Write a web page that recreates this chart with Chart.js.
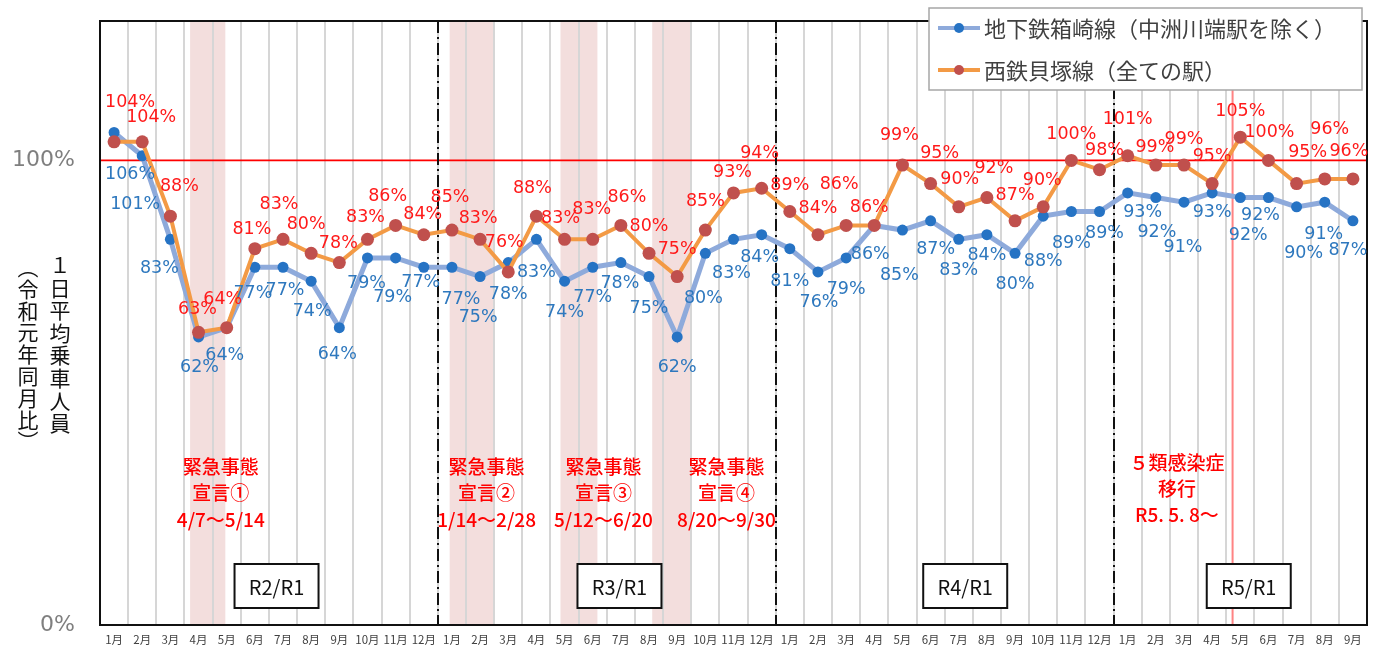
<!DOCTYPE html>
<html lang="ja">
<head>
<meta charset="utf-8">
<script src="https://cdn.jsdelivr.net/npm/chart.js@4.4.1/dist/chart.umd.min.js"></script>
<style>
html,body{margin:0;padding:0;background:#fff;}
#wrap{width:1381px;height:652px;}
</style>
</head>
<body>
<div id="wrap"><canvas id="c" width="1381" height="652"></canvas></div>
<script>
// 月ラベル（令和2年1月〜令和5年9月）
const months = [
  '1月','2月','3月','4月','5月','6月','7月','8月','9月','10月','11月','12月',
  '1月','2月','3月','4月','5月','6月','7月','8月','9月','10月','11月','12月',
  '1月','2月','3月','4月','5月','6月','7月','8月','9月','10月','11月','12月',
  '1月','2月','3月','4月','5月','6月','7月','8月','9月'
];

// 地下鉄箱崎線（中洲川端駅を除く）令和元年同月比 %
const subway = [
  106, 101, 83, 62, 64, 77, 77, 74, 64, 79, 79, 77,
  77, 75, 78, 83, 74, 77, 78, 75, 62, 80, 83, 84,
  81, 76, 79, 86, 85, 87, 83, 84, 80, 88, 89, 89,
  93, 92, 91, 93, 92, 92, 90, 91, 87
];

// 西鉄貝塚線（全ての駅）令和元年同月比 %
const nishitetsu = [
  104, 104, 88, 63, 64, 81, 83, 80, 78, 83, 86, 84,
  85, 83, 76, 88, 83, 83, 86, 80, 75, 85, 93, 94,
  89, 84, 86, 86, 99, 95, 90, 92, 87, 90, 100, 98,
  101, 99, 99, 95, 105, 100, 95, 96, 96
];

const seriesNames = ['地下鉄箱崎線（中洲川端駅を除く）', '西鉄貝塚線（全ての駅）'];
const yTickValues = [0, 100];

// 緊急事態宣言の期間
const emergencyPeriods = [
  { from: [2020, 4, 7],  to: [2020, 5, 14], lines: ['緊急事態', '宣言①', '4/7～5/14'],  at: 3.79 },
  { from: [2021, 1, 14], to: [2021, 2, 28], lines: ['緊急事態', '宣言②', '1/14～2/28'], at: 13.23 },
  { from: [2021, 5, 12], to: [2021, 6, 20], lines: ['緊急事態', '宣言③', '5/12～6/20'], at: 17.38 },
  { from: [2021, 8, 20], to: [2021, 9, 30], lines: ['緊急事態', '宣言④', '8/20～9/30'], at: 21.75 }
];
// ５類感染症移行日
const class5Date = [2023, 5, 8];
const class5Lines = ['５類感染症', '移行', 'R5. 5. 8～'];
const class5At = 37.75;

// 年度区分ボックス
const periodBoxes = [
  { text: 'R2/R1', at: 5.77 },
  { text: 'R3/R1', at: 17.95 },
  { text: 'R4/R1', at: 30.23 },
  { text: 'R5/R1', at: 40.3 }
];
const yearBreaks = [11.5, 23.5, 35.5];

// データラベルの位置調整（点からのずれ px）
const subwayLabelShift = [
  [16,42],[-7,49],[-11,29],[1,31],[-2,28],[-2,26],[2,23],[1,30],[-2,27],[-1,25],[-3,39],[-3,15],
  [9,32],[-2,41],[0,32],[0,33],[0,31],[0,30],[-1,21],[0,32],[0,31],[-2,45],[-2,34],[-2,23],
  [0,33],[1,31],[0,31],[-4,29],[-3,45],[5,29],[0,31],[0,21],[0,31],[0,45],[0,32],[5,22],
  [15,20],[1,35],[-1,45],[0,20],[8,38],[-8,18],[7,47],[-1,32],[-5,30]
];
const nishitetsuLabelShift = [
  [16,-39],[9,-24],[9,-30],[-1,-23],[-4,-28],[-3,-19],[-4,-35],[-5,-29],[-1,-19],[-2,-22],[-8,-29],[-1,-20],
  [-2,-33],[-2,-21],[-4,-29],[-4,-28],[-4,-21],[-1,-30],[6,-28],[0,-27],[0,-27],[0,-29],[-1,-20],[-2,-35],
  [0,-26],[0,-26],[-7,-41],[-5,-18],[-3,-30],[9,-30],[1,-27],[7,-29],[0,-25],[-1,-26],[0,-26],[5,-19],
  [0,-36],[-1,-18],[0,-26],[0,-27],[0,-26],[1,-28],[11,-31],[5,-50],[-4,-28]
];

const COLORS = {
  subwayLine: '#8EAADB',
  subwayPoint: '#2673C4',
  subwayLabel: '#2E78BE',
  nishiLine: '#F39A45',
  nishiPoint: '#C0504D',
  nishiLabel: '#FF1A1A',
  red: '#FF0000',
  grid: '#D6D6D6',
  band: '#F3DEDD'
};

const CJK = '"Noto Sans CJK JP", "Noto Sans", sans-serif';

// 日付 → カテゴリ軸上の小数位置
function datePos(y, m, d, isEnd) {
  const i = (y - 2020) * 12 + (m - 1);
  const dim = new Date(y, m, 0).getDate();
  return i - 0.5 + (isEnd ? d : d - 1) / dim;
}

const overlay = {
  id: 'overlay',
  beforeDraw(chart) {
    const { ctx, chartArea: a, scales: { x } } = chart;
    ctx.save();
    ctx.fillStyle = COLORS.band;
    for (const p of emergencyPeriods) {
      const x0 = x.getPixelForValue(datePos(...p.from, false));
      const x1 = x.getPixelForValue(datePos(...p.to, true));
      ctx.fillRect(x0, a.top, x1 - x0, a.bottom - a.top);
    }
    ctx.restore();
  },
  beforeDatasetsDraw(chart) {
    const { ctx, chartArea: a, scales: { x, y } } = chart;
    ctx.save();

    // 100% 基準線
    const y100 = y.getPixelForValue(100);
    ctx.strokeStyle = COLORS.red;
    ctx.lineWidth = 1.6;
    ctx.beginPath();
    ctx.moveTo(a.left, y100);
    ctx.lineTo(a.right, y100);
    ctx.stroke();

    // ５類移行日
    const xc = x.getPixelForValue(datePos(...class5Date, false));
    ctx.strokeStyle = 'rgba(255,90,90,0.75)';
    ctx.lineWidth = 2;
    ctx.beginPath();
    ctx.moveTo(xc, a.top);
    ctx.lineTo(xc, a.bottom);
    ctx.stroke();

    // 注記テキスト
    ctx.fillStyle = COLORS.red;
    ctx.textAlign = 'center';
    ctx.textBaseline = 'middle';
    ctx.font = '500 19px ' + CJK;
    const lineYs = [467, 493, 520];
    for (const p of emergencyPeriods) {
      const cx = x.getPixelForValue(p.at);
      p.lines.forEach((t, k) => ctx.fillText(t, cx, lineYs[k]));
    }
    const c5x = x.getPixelForValue(class5At);
    const c5Ys = [463, 489, 515];
    class5Lines.forEach((t, k) => ctx.fillText(t, c5x, c5Ys[k]));

    // 年区切り（一点鎖線）
    ctx.strokeStyle = '#111';
    ctx.lineWidth = 2;
    ctx.setLineDash([12, 4, 2, 4]);
    for (const b of yearBreaks) {
      const bx = Math.round(x.getPixelForValue(b));
      ctx.beginPath();
      ctx.moveTo(bx, a.top);
      ctx.lineTo(bx, a.bottom);
      ctx.stroke();
    }
    ctx.setLineDash([]);

    // 年度ボックス
    ctx.font = '20px ' + CJK;
    for (const b of periodBoxes) {
      const cx = x.getPixelForValue(b.at);
      const w = 84, h = 44, top = 564;
      ctx.fillStyle = '#fff';
      ctx.fillRect(cx - w / 2, top, w, h);
      ctx.strokeStyle = '#111';
      ctx.lineWidth = 2;
      ctx.strokeRect(cx - w / 2, top, w, h);
      ctx.fillStyle = '#111';
      ctx.fillText(b.text, cx, top + h / 2 + 1);
    }

    // 外枠
    ctx.strokeStyle = '#111';
    ctx.lineWidth = 2;
    ctx.strokeRect(a.left, a.top, a.right - a.left, a.bottom - a.top);
    ctx.restore();
  },
  afterDatasetsDraw(chart) {
    const { ctx } = chart;
    ctx.save();
    ctx.font = '17.5px "DejaVu Sans", Verdana, sans-serif';
    ctx.textAlign = 'center';
    ctx.textBaseline = 'middle';
    const sets = [
      { idx: 0, values: subway, shift: subwayLabelShift, color: COLORS.subwayLabel },
      { idx: 1, values: nishitetsu, shift: nishitetsuLabelShift, color: COLORS.nishiLabel }
    ];
    for (const s of sets) {
      const meta = chart.getDatasetMeta(s.idx);
      ctx.fillStyle = s.color;
      meta.data.forEach((pt, i) => {
        const [dx, dy] = s.shift[i];
        ctx.fillText(s.values[i] + '%', pt.x + dx, pt.y + dy);
      });
    }
    ctx.restore();
  },
  afterDraw(chart) {
    const { ctx } = chart;
    ctx.save();

    // 縦書きの軸タイトル
    ctx.fillStyle = '#111';
    ctx.font = '21px ' + CJK;
    ctx.textAlign = 'center';
    ctx.textBaseline = 'middle';
    const right = '１日平均乗車人員';
    const left = '︵令和元年同月比︶';
    [...right].forEach((ch, i) => ctx.fillText(ch, 60, 265 + i * 22.6));
    [...left].forEach((ch, i) => ctx.fillText(ch, 28, 267 + i * 21.8));

    // 凡例
    const lx = 929, ly = 8, lw = 433, lh = 82;
    ctx.fillStyle = '#fff';
    ctx.fillRect(lx, ly, lw, lh);
    ctx.strokeStyle = '#A6A6A6';
    ctx.lineWidth = 1.5;
    ctx.strokeRect(lx, ly, lw, lh);
    const rows = [
      { y: 28, line: COLORS.subwayLine, point: COLORS.subwayPoint, text: seriesNames[0] },
      { y: 70, line: COLORS.nishiLine, point: COLORS.nishiPoint, text: seriesNames[1] }
    ];
    for (const r of rows) {
      ctx.strokeStyle = r.line;
      ctx.lineWidth = 4;
      ctx.beginPath();
      ctx.moveTo(938, r.y);
      ctx.lineTo(980, r.y);
      ctx.stroke();
      ctx.fillStyle = r.point;
      ctx.beginPath();
      ctx.arc(959, r.y, 5, 0, Math.PI * 2);
      ctx.fill();
      ctx.fillStyle = '#404040';
      ctx.font = '22px ' + CJK;
      ctx.textAlign = 'left';
      ctx.fillText(r.text, 984, r.y + 1);
    }
    ctx.restore();
  }
};

new Chart(document.getElementById('c'), {
  type: 'line',
  data: {
    labels: months,
    datasets: [
      {
        label: seriesNames[0],
        data: subway,
        borderColor: COLORS.subwayLine,
        borderWidth: 5,
        pointBackgroundColor: COLORS.subwayPoint,
        pointBorderColor: COLORS.subwayPoint,
        pointRadius: 5.5,
        pointBorderWidth: 0,
        tension: 0,
        order: 1
      },
      {
        label: seriesNames[1],
        data: nishitetsu,
        borderColor: COLORS.nishiLine,
        borderWidth: 4,
        pointBackgroundColor: COLORS.nishiPoint,
        pointBorderColor: COLORS.nishiPoint,
        pointRadius: 6.5,
        pointBorderWidth: 0,
        tension: 0,
        order: 0
      }
    ]
  },
  options: {
    responsive: false,
    animation: false,
    devicePixelRatio: 1,
    layout: { padding: { left: 0, top: 21, right: 14, bottom: 0 } },
    plugins: {
      legend: { display: false },
      tooltip: { enabled: false }
    },
    scales: {
      x: {
        offset: true,
        grid: { display: true, offset: true, color: COLORS.grid, lineWidth: 2, drawTicks: false },
        border: { display: false },
        ticks: {
          autoSkip: false, maxRotation: 0, minRotation: 0, padding: 8,
          color: '#404040', font: { size: 11.5, family: CJK }
        },
        afterFit(scale) {
          scale.height = 27;
          scale.paddingLeft = 0; scale.paddingRight = 0;
          scale.paddingTop = 0; scale.paddingBottom = 0;
        }
      },
      y: {
        min: 0,
        max: 130,
        grid: { display: false, drawTicks: false },
        border: { display: false },
        afterBuildTicks(scale) { scale.ticks = yTickValues.map(v => ({ value: v })); },
        ticks: {
          padding: 25,
          color: '#7F7F7F',
          font: { size: 22, family: '"DejaVu Sans", Verdana, sans-serif' },
          callback: v => v + '%'
        },
        afterFit(scale) {
          scale.width = 100;
          scale.paddingLeft = 0; scale.paddingRight = 0;
          scale.paddingTop = 0; scale.paddingBottom = 0;
        }
      }
    }
  },
  plugins: [overlay]
});
</script>
</body>
</html>
